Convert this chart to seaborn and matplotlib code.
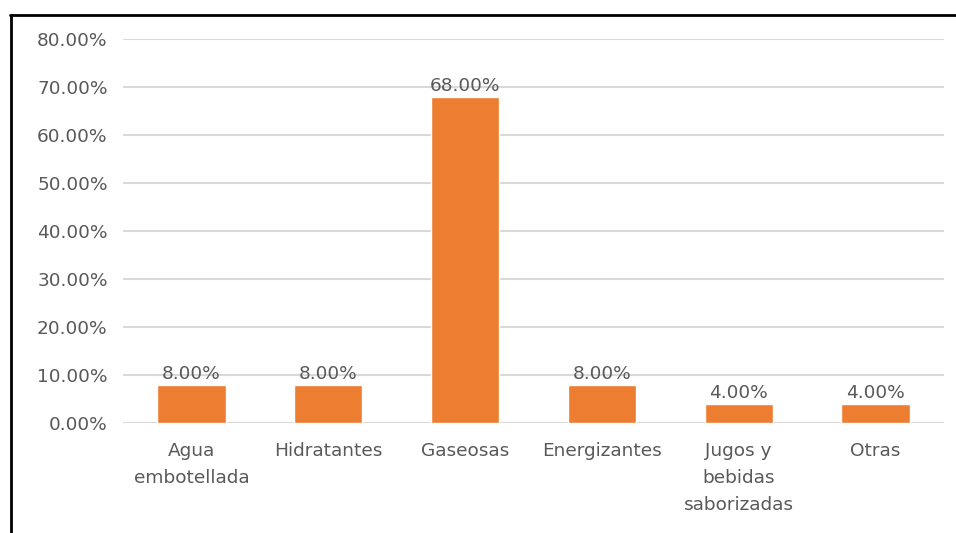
import matplotlib
matplotlib.use("Agg")
import matplotlib.pyplot as plt
import seaborn as sns
import pandas as pd
from matplotlib.lines import Line2D

categories = ["Agua\nembotellada", "Hidratantes", "Gaseosas", "Energizantes",
              "Jugos y\nbebidas\nsaborizadas", "Otras"]
values = [8.0, 8.0, 68.0, 8.0, 4.0, 4.0]
y_ticks = [0, 10, 20, 30, 40, 50, 60, 70, 80]

sns.set_theme(style="white")
plt.rcParams["font.family"] = ["DejaVu Sans"]

text_color = "#595959"
bar_color = "#ED7D31"
grid_color = "#D9D9D9"
fs = 13.3

df = pd.DataFrame({"categoria": categories, "valor": values})

W, H = 956, 533
fig = plt.figure(figsize=(W / 100, H / 100), dpi=100)
ax = fig.add_axes([123 / W, 1 - 423 / H, (944 - 123) / W, (423 - 39) / H])

sns.barplot(data=df, x="categoria", y="valor", color=bar_color,
            saturation=1, width=0.5, ax=ax)

ax.set_ylim(0, 80)
ax.set_xlim(-0.5, len(categories) - 0.5)
ax.set_yticks(y_ticks)
ax.set_yticklabels([f"{t:.2f}%" for t in y_ticks])
ax.yaxis.grid(True, color=grid_color, linewidth=1.5)
ax.set_axisbelow(True)
for s in ax.spines.values():
    s.set_visible(False)
ax.set_xlabel("")
ax.set_ylabel("")
ax.tick_params(axis="y", length=0, pad=11, labelsize=fs, labelcolor=text_color)
ax.tick_params(axis="x", length=0, pad=14, labelsize=fs, labelcolor=text_color)
for lbl in ax.get_xticklabels():
    lbl.set_linespacing(1.62)

for i, v in enumerate(values):
    ax.annotate(f"{v:.2f}%", (i, v), xytext=(0, 1), textcoords="offset points",
                ha="center", va="bottom", fontsize=fs, color=text_color)

# frame around the chart area (left and top edges)
fig.add_artist(Line2D([11 / W, 11 / W], [0, 1 - 15 / H], color="black",
                      linewidth=2, transform=fig.transFigure))
fig.add_artist(Line2D([10 / W, 1], [1 - 15 / H, 1 - 15 / H], color="black",
                      linewidth=2, transform=fig.transFigure))

fig.savefig("out.png", dpi=100, facecolor="white")
